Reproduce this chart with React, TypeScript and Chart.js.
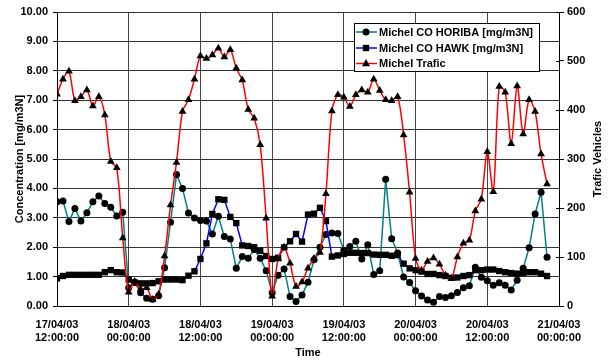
import React, { useEffect, useRef } from "react";
import { Chart, registerables } from "chart.js";

Chart.register(...registerables);

// x tick labels, one every 12 hours starting at 17/04/03 12:00:00
const xTickLabels: string[][] = [
  ["17/04/03", "12:00:00"],
  ["18/04/03", "00:00:00"],
  ["18/04/03", "12:00:00"],
  ["19/04/03", "00:00:00"],
  ["19/04/03", "12:00:00"],
  ["20/04/03", "00:00:00"],
  ["20/04/03", "12:00:00"],
  ["21/04/03", "00:00:00"],
];

// hourly values (index = hours since 17/04/03 12:00:00)
const horiba: number[] = [
  3.55, 3.57, 2.87, 3.32, 2.89, 3.17, 3.55, 3.74, 3.49, 3.36, 3.06, 3.19,
  0.62, 0.8, 0.45, 0.26, 0.23, 0.35, 1.3, 2.85, 4.47, 4.0, 3.16, 2.99,
  2.91, 2.89, 2.45, 3.05, 2.36, 2.28, 1.28, 1.68, 1.62, 1.92, 1.62, 1.2,
  0.45, 1.05, 1.26, 0.32, 0.15, 0.37, 0.81, 1.57, 2.0, 2.43, 2.48, 2.47,
  1.9, 2.02, 2.2, 1.6, 2.08, 1.07, 1.2, 4.31, 2.29, 1.8, 0.99, 0.8,
  0.52, 0.34, 0.2, 0.13, 0.32, 0.29, 0.35, 0.46, 0.62, 0.69, 1.32, 0.98,
  0.86, 0.71, 0.79, 0.71, 0.54, 0.88, 1.28, 1.98, 3.13, 3.87, 1.66,
];

const hawk: number[] = [
  0.94, 1.02, 1.06, 1.06, 1.06, 1.06, 1.06, 1.06, 1.15, 1.22, 1.15, 1.14,
  0.9, 0.8, 0.77, 0.77, 0.78, 0.84, 0.9, 0.9, 0.9, 0.88, 1.03, 1.18,
  1.6, 2.13, 3.13, 3.63, 3.61, 3.03, 2.82, 2.06, 2.04, 2.0, 1.88, 1.7,
  1.6, 1.64, 1.99, 2.2, 2.45, 2.19, 3.11, 3.14, 3.34, 2.89, 1.68, 1.72,
  1.77, 1.81, 1.81, 1.8, 1.8, 1.75, 1.74, 1.74, 1.71, 1.73, 1.44, 1.28,
  1.22, 1.17, 1.09, 1.09, 1.05, 1.02, 0.96, 0.97, 1.02, 1.05, 1.22, 1.22,
  1.24, 1.24, 1.19, 1.15, 1.12, 1.1, 1.12, 1.15, 1.15, 1.1, 1.02,
];

const trafic: number[] = [
  432, 463, 479, 419, 427, 441, 408, 427, 390, 295, 282, 139,
  28, 50, 34, 37, 13, 24, 102, 206, 293, 397, 421, 463,
  510, 505, 512, 526, 508, 523, 485, 461, 401, 383, 329, 179,
  20, 96, 120, 87, 40, 49, 77, 97, 109, 229, 398, 431,
  426, 407, 431, 441, 436, 463, 440, 421, 419, 427, 349, 232,
  97, 73, 91, 98, 85, 63, 56, 100, 128, 134, 194, 218,
  315, 233, 448, 436, 331, 449, 351, 421, 397, 310, 249,
];

const seriesNames = ["Michel CO HORIBA [mg/m3N]", "Michel CO HAWK [mg/m3N]", "Michel Trafic"];
const seriesColors = ["#008080", "#0000FF", "#FF0000"];
const seriesMarkers = ["circle", "rect", "triangle"];

const FONT_FAMILY = '"Liberation Sans", Arial, Helvetica, sans-serif';

function drawMarker(ctx: CanvasRenderingContext2D, kind: string, x: number, y: number) {
  ctx.fillStyle = "#000";
  ctx.beginPath();
  if (kind === "circle") {
    ctx.arc(x, y, 3.5, 0, Math.PI * 2);
  } else if (kind === "rect") {
    ctx.rect(x - 3.2, y - 3.2, 6.4, 6.4);
  } else {
    ctx.moveTo(x, y - 4.5);
    ctx.lineTo(x + 4, y + 2.8);
    ctx.lineTo(x - 4, y + 2.8);
    ctx.closePath();
  }
  ctx.fill();
}

const overlayPlugin = {
  id: "overlay",
  afterDraw(chart: any) {
    const ctx: CanvasRenderingContext2D = chart.ctx;
    const { left, right, top, bottom } = chart.chartArea;
    ctx.save();

    // inner part of crossing tick marks on right axis
    const y1 = chart.scales.y1;
    ctx.strokeStyle = "#000";
    ctx.lineWidth = 1;
    y1.ticks.forEach((t: any) => {
      const py = Math.round(y1.getPixelForValue(t.value)) + 0.5;
      ctx.beginPath();
      ctx.moveTo(right - 3, py);
      ctx.lineTo(right, py);
      ctx.stroke();
    });

    // legend box
    const lx = 354.5, ly = 23.5, lw = 185, lh = 48;
    ctx.fillStyle = "#fff";
    ctx.fillRect(lx, ly, lw, lh);
    ctx.strokeStyle = "#000";
    ctx.strokeRect(lx, ly, lw, lh);
    const rows = [32, 48, 63.5];
    ctx.font = `bold 11px ${FONT_FAMILY}`;
    ctx.textAlign = "left";
    ctx.textBaseline = "middle";
    seriesNames.forEach((name, i) => {
      const ry = rows[i];
      ctx.strokeStyle = seriesColors[i];
      ctx.lineWidth = 1.5;
      ctx.beginPath();
      ctx.moveTo(356, ry);
      ctx.lineTo(377, ry);
      ctx.stroke();
      drawMarker(ctx, seriesMarkers[i], 366, ry);
      ctx.fillStyle = "#000";
      ctx.fillText(name, 379, ry + 0.5);
    });

    // axis titles
    ctx.fillStyle = "#000";
    ctx.font = `bold 11px ${FONT_FAMILY}`;
    ctx.textAlign = "center";
    ctx.textBaseline = "alphabetic";
    ctx.fillText("Time", (left + right) / 2, 356);

    ctx.textBaseline = "middle";
    ctx.save();
    ctx.translate(19.5, (top + bottom) / 2);
    ctx.rotate(-Math.PI / 2);
    ctx.fillText("Concentration [mg/m3N]", 0, 0);
    ctx.restore();

    ctx.save();
    ctx.translate(598, (top + bottom) / 2);
    ctx.rotate(-Math.PI / 2);
    ctx.fillText("Trafic Vehicles", 0, 0);
    ctx.restore();

    ctx.restore();
  },
};

export default function App() {
  const canvasRef = useRef<HTMLCanvasElement | null>(null);

  useEffect(() => {
    document.body.style.margin = "0";
    const canvas = canvasRef.current;
    if (!canvas) return;

    Chart.defaults.font.family = FONT_FAMILY;
    Chart.defaults.font.size = 11;
    Chart.defaults.font.weight = "bold";
    Chart.defaults.color = "#000";

    const toPts = (arr: number[]) => arr.map((v, i) => ({ x: i, y: v }));

    const chart = new Chart(canvas, {
      type: "line",
      data: {
        datasets: [
          {
            label: seriesNames[0],
            data: toPts(horiba),
            yAxisID: "y",
            borderColor: seriesColors[0],
            borderWidth: 1.5,
            pointStyle: "circle",
            pointRadius: 3.5,
            pointBackgroundColor: "#000",
            pointBorderColor: "#000",
            pointBorderWidth: 0,
            tension: 0,
            order: 3,
          },
          {
            label: seriesNames[1],
            data: toPts(hawk),
            yAxisID: "y",
            borderColor: seriesColors[1],
            borderWidth: 1.5,
            pointStyle: "rect",
            pointRadius: 4.5,
            pointBackgroundColor: "#000",
            pointBorderColor: "#000",
            pointBorderWidth: 0,
            tension: 0,
            order: 2,
          },
          {
            label: seriesNames[2],
            data: toPts(trafic),
            yAxisID: "y1",
            borderColor: seriesColors[2],
            borderWidth: 1.5,
            pointStyle: "triangle",
            pointRadius: 4.5,
            pointBackgroundColor: "#000",
            pointBorderColor: "#000",
            pointBorderWidth: 0,
            tension: 0.3,
            order: 1,
          },
        ],
      },
      options: {
        responsive: false,
        animation: false,
        devicePixelRatio: 1,
        layout: { padding: { top: 12, left: 0, right: 0, bottom: 0 } },
        plugins: {
          legend: { display: false },
          tooltip: { enabled: false },
          title: { display: false },
        },
        scales: {
          x: {
            type: "linear",
            position: "bottom",
            min: 0,
            max: 84,
            afterFit: (s: any) => {
              s.height = 55;
            },
            ticks: {
              stepSize: 12,
              autoSkip: false,
              maxRotation: 0,
              minRotation: 0,
              padding: 12,
              color: "#000",
              font: { size: 11, weight: "bold" },
              callback: (v: any) => xTickLabels[Math.round(Number(v) / 12)] ?? "",
            },
            grid: { color: "#444", lineWidth: 1, drawTicks: false },
            border: { color: "#000", width: 1 },
          },
          y: {
            position: "left",
            min: 0,
            max: 10,
            afterFit: (s: any) => {
              s.width = 57;
            },
            ticks: {
              stepSize: 1,
              padding: 5,
              color: "#000",
              font: { size: 11, weight: "bold" },
              callback: (v: any) => Number(v).toFixed(2),
            },
            grid: { color: "#333", lineWidth: 1, tickLength: 4, tickColor: "#000" },
            border: { color: "#000", width: 1 },
          },
          y1: {
            position: "right",
            min: 0,
            max: 600,
            afterFit: (s: any) => {
              s.width = 51;
            },
            ticks: {
              stepSize: 100,
              padding: 3,
              color: "#000",
              font: { size: 11, weight: "bold" },
            },
            grid: { drawOnChartArea: false, tickLength: 5, tickColor: "#000" },
            border: { color: "#000", width: 1 },
          },
        },
      },
      plugins: [overlayPlugin],
    } as any);

    return () => {
      chart.destroy();
    };
  }, []);

  return (
    <div style={{ position: "fixed", left: 0, top: 0, width: 610, height: 361, background: "#fff" }}>
      <canvas ref={canvasRef} width={610} height={361} style={{ display: "block" }} />
    </div>
  );
}
